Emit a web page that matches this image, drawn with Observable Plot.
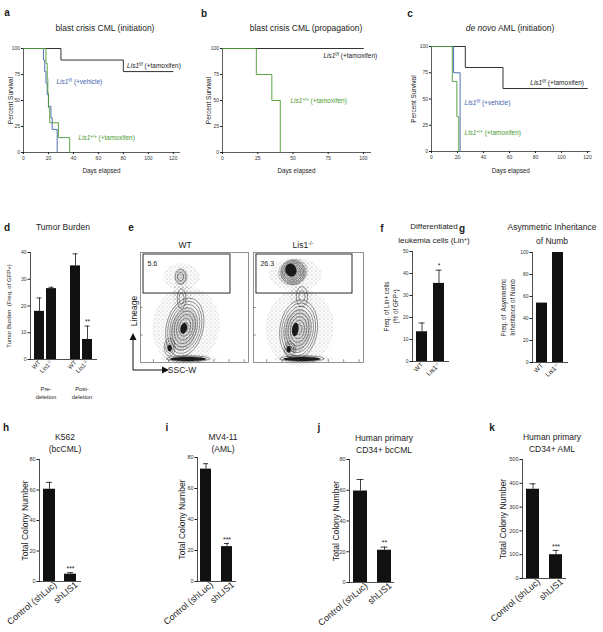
<!DOCTYPE html>
<html><head><meta charset="utf-8">
<script src="https://cdn.jsdelivr.net/npm/d3@7"></script>
<script src="https://cdn.jsdelivr.net/npm/@observablehq/plot@0.6"></script>
<style>
body{margin:0;background:#fff;}
#root{position:relative;width:603px;height:632px;overflow:hidden;font-family:'Liberation Sans',Arial,Helvetica,sans-serif;color:#1c1c1c;background:#fff;}
.t{position:absolute;white-space:nowrap;transform:translate(-50%,-50%);text-align:center;line-height:1.2;font-size:8.5px;}
.t sup{font-size:65%;vertical-align:0.45em;line-height:0;}
.L{position:absolute;font-weight:bold;font-size:10px;transform:translate(-50%,-50%);}
.p{position:absolute;}
</style></head><body>
<svg width="0" height="0" style="position:absolute">
<defs>
<pattern id="stSparse" width="4" height="4" patternUnits="userSpaceOnUse"><rect x="0.3" y="0.4" width="0.7" height="0.7" fill="#444"/><rect x="2.4" y="2.2" width="0.6" height="0.6" fill="#555"/><rect x="2.9" y="0.2" width="0.4" height="0.4" fill="#777"/></pattern>
<pattern id="stDense" width="3" height="3" patternUnits="userSpaceOnUse"><rect x="0.2" y="0.3" width="0.9" height="0.9" fill="#222"/><rect x="1.7" y="1.8" width="0.8" height="0.8" fill="#333"/><rect x="2.2" y="0.2" width="0.5" height="0.5" fill="#555"/></pattern>
</defs></svg>
<div id="root"></div>
<script>
const FONT = "'Liberation Sans', Arial, Helvetica, sans-serif";
const INK = "#1c1c1c";
const BLUE = "#3d63ad";
const GREEN = "#4b9a34";

// ---------- a: blast crisis CML (initiation)
const aFFTamDays = [0, 30, 80, 120];
const aFFTamSurv = [100, 88.9, 77.8, 77.8];
const aFFVehDays = [0, 16, 17, 18, 19, 20, 22, 23, 27];
const aFFVehSurv = [100, 88.9, 77.8, 66.7, 55.6, 44.4, 33.3, 22.2, 0];
const aWTTamDays = [0, 18, 19, 19.5, 20, 21, 28, 37];
const aWTTamSurv = [100, 85.7, 71.4, 57.1, 42.9, 28.6, 14.3, 0];
// ---------- b: blast crisis CML (propagation)
const bFFTamDays = [0, 100];
const bFFTamSurv = [100, 100];
const bWTTamDays = [0, 24, 35, 41];
const bWTTamSurv = [100, 75, 50, 0];
// ---------- c: de novo AML (initiation)
const cFFTamDays = [0, 26, 55, 120];
const cFFTamSurv = [100, 80, 60, 60];
const cFFVehDays = [0, 17, 22];
const cFFVehSurv = [100, 75, 0];
const cWTTamDays = [0, 16, 19.5, 21];
const cWTTamSurv = [100, 66.7, 33.3, 0];
const survTicks = [0, 25, 50, 75, 100];
const daysTicks120 = [0, 20, 40, 60, 80, 100, 120];
const daysTicks100 = [0, 25, 50, 75, 100];
const legFFTam = "~Lis1~^{f/f} (+tamoxifen)";
const legFFVeh = "~Lis1~^{f/f} (+vehicle)";
const legWTTam = "~Lis1~^{+/+} (+tamoxifen)";

// ---------- d: Tumor burden
const dCats = ["WT pre", "Lis1 pre", "gap", "WT post", "Lis1 post"];
const dTicks = ["WT", "Lis1^{-/-}", "", "WT", "Lis1^{-/-}"];
const dMean = [18, 26.5, null, 35, 7.5];
const dErr = [23, 27, null, 39.5, 12.5];
const dSig = ["", "", "", "", "**"];
const dGroups = ["Pre-\ndeletion", "Post-\ndeletion"];
const dGroupAt = ["WT pre", "WT post"];
const dYTicks = [0, 10, 20, 30, 40];

// ---------- e: flow cytometry (gate percentages)
const eWTGate = "5.6";
const eLisGate = "26.3";
// population descriptors: [cx, cy, rx, ry, tiltDeg, rings]
const eWTContours = [[37, 78, 5, 7, 0, 2], [41, 32, 17, 27, -14, 8], [27, 14, 5, 8, 0, 3], [38, 58, 4, 9, 0, 2], [44, 3.5, 20, 2.6, 0, 3]];
const eWTHaze = [[42, 33, 31, 36, -10], [38, 60, 9, 14, 0], [38, 78, 17, 12, 0], [45, 3.5, 27, 4, 0]];
const eWTDense = [[40, 30, 12, 20, -14], [38, 78, 6, 7, 0]];
const eWTCore = [[40, 31, 3, 5, -14], [27, 13, 2, 3, 0], [44, 3.2, 17, 1.8, 0]];
const eLisContours = [[36, 82, 11, 11, 20, 7], [41, 30, 17, 27, -8, 8], [33, 12, 5, 7, 0, 3], [44, 60, 5, 9, 0, 2], [44, 3.5, 20, 2.6, 0, 3]];
const eLisHaze = [[42, 32, 31, 35, -8], [38, 80, 24, 15, 0], [43, 60, 10, 12, 0], [45, 3.5, 27, 4, 0]];
const eLisDense = [[36, 82, 14, 12, 20], [40, 29, 12, 20, -8]];
const eLisCore = [[34, 84, 5, 6, 20], [38, 30, 3, 6, -8], [32, 12, 2, 3, 0], [44, 3.2, 17, 1.8, 0]];
const eWTGateBox = [{x1: 2.8, x2: 83.3, y1: 62.7, y2: 98.2}];
const eLisGateBox = [{x1: 2.7, x2: 90, y1: 62.7, y2: 98.2}];
const eTicksX = [12, 26, 40, 54, 68, 82, 96];
const eTicksY = [25, 50];

// ---------- f / g
const fCats = ["WT", "Lis1"];
const fTicks = ["WT", "Lis1^{-/-}"];
const fMean = [13.5, 35.5];
const fErr = [17.5, 41.5];
const fSig = ["", "*"];
const fYTicks = [0, 10, 20, 30, 40, 50];
const gMean = [54, 100];
const gYTicks = [0, 20, 40, 60, 80, 100];

// ---------- h-k colony assays
const colCats = ["Control (shLuc)", "shLIS1"];
const hMean = [60.5, 4.8], hErr = [65, 5.8], hSig = ["", "***"];
const iMean = [72.5, 22.5], iErr = [76, 24.5], iSig = ["", "***"];
const jMean = [59.5, 21], jErr = [67, 23], jSig = ["", "**"];
const kMean = [375, 100], kErr = [398, 118], kSig = ["", "***"];
const colTicks80 = [0, 20, 40, 60, 80];
const colTicks500 = [0, 100, 200, 300, 400, 500];

// ================= helpers
const root = document.getElementById("root");
const NS = "http://www.w3.org/2000/svg";
function rich(svg) {
  const leaves = [...svg.querySelectorAll("text, tspan")].filter(n => n.children.length === 0);
  for (const el of leaves) {
    const s = el.textContent;
    if (!/~|\^\{/.test(s)) continue;
    el.textContent = "";
    const re = /~([^~]+)~|\^\{([^}]*)\}|([^~^]+)/g;
    let m;
    while ((m = re.exec(s))) {
      const t = document.createElementNS(NS, "tspan");
      if (m[1] !== undefined) { t.setAttribute("font-style", "italic"); t.textContent = m[1]; }
      else if (m[2] !== undefined) { t.setAttribute("baseline-shift", "super"); t.setAttribute("font-size", "68%"); t.textContent = m[2]; }
      else t.textContent = m[3];
      el.appendChild(t);
    }
  }
  return svg;
}
function place(svg, left, top) {
  rich(svg);
  svg.style.position = "absolute";
  svg.style.left = left + "px";
  svg.style.top = top + "px";
  svg.style.overflow = "visible";
  root.appendChild(svg);
}
function html(str, x, y, extra) {
  const d = document.createElement("div");
  d.className = "t";
  d.innerHTML = str;
  d.style.left = x + "px"; d.style.top = y + "px";
  if (extra) Object.assign(d.style, extra);
  root.appendChild(d);
}
function letter(ch, x, y) {
  const d = document.createElement("div");
  d.className = "L"; d.textContent = ch;
  d.style.left = x + "px"; d.style.top = y + "px";
  root.appendChild(d);
}
const baseStyle = {fontFamily: FONT, color: INK, background: "transparent", overflow: "visible"};

// ================= survival panels
function survival(o) {
  const marks = [
    Plot.frame({anchor: "left", stroke: "#333", strokeWidth: 0.8}),
    Plot.frame({anchor: "bottom", stroke: "#333", strokeWidth: 0.8}),
    Plot.axisX({ticks: o.xTicks, tickSize: 2, tickPadding: 1.5, fontSize: 5, label: null, fill: "#333"}),
    Plot.axisY({ticks: survTicks, tickSize: 2, tickPadding: 1.5, fontSize: 5, label: null, fill: "#333"})
  ];
  for (const s of o.series) {
    marks.push(Plot.line(s.days.map((t, i) => ({t, v: s.surv[i]})), {x: "t", y: "v", curve: "step-after", stroke: s.color, strokeWidth: 0.9}));
  }
  for (const l of o.labels) {
    marks.push(Plot.text([l], {x: "x", y: "y", text: "text", fill: l.color, textAnchor: "start", fontSize: 6.5}));
  }
  marks.push(Plot.text(["Percent Survival"], {text: d => d, frameAnchor: "left", textAnchor: "middle", lineAnchor: "middle", dx: o.ylDx, rotate: -90, fontSize: 6.5}));
  marks.push(Plot.text(["Days elapsed"], {text: d => d, frameAnchor: "bottom", textAnchor: "middle", lineAnchor: "middle", dy: o.xlDy, fontSize: 6.3}));
  const svg = Plot.plot({
    width: o.width, height: o.height,
    marginLeft: o.mL, marginRight: o.mR, marginTop: o.mT, marginBottom: o.mB,
    x: {domain: o.xDomain}, y: {domain: [0, 100]},
    style: {...baseStyle, fontSize: "5px"},
    marks
  });
  place(svg, o.left, o.top);
}

survival({left: 0, top: 40, width: 195, height: 136, mL: 23, mR: 16, mT: 8, mB: 24, xDomain: [0, 125], xTicks: daysTicks120, ylDx: -13, xlDy: 18,
  series: [{days: aFFTamDays, surv: aFFTamSurv, color: INK}, {days: aFFVehDays, surv: aFFVehSurv, color: BLUE}, {days: aWTTamDays, surv: aWTTamSurv, color: GREEN}],
  labels: [{x: 83, y: 83.7, text: legFFTam, color: INK}, {x: 26.4, y: 68, text: legFFVeh, color: BLUE}, {x: 44, y: 14.4, text: legWTTam, color: GREEN}]});
survival({left: 200, top: 40, width: 200, height: 136, mL: 22, mR: 30, mT: 8, mB: 24, xDomain: [0, 105], xTicks: daysTicks100, ylDx: -14, xlDy: 18,
  series: [{days: bFFTamDays, surv: bFFTamSurv, color: INK}, {days: bWTTamDays, surv: bWTTamSurv, color: GREEN}],
  labels: [{x: 71.6, y: 93, text: legFFTam, color: INK}, {x: 48.2, y: 50, text: legWTTam, color: GREEN}]});
survival({left: 400, top: 38, width: 203, height: 137, mL: 31, mR: 13.4, mT: 8, mB: 24, xDomain: [0, 122], xTicks: daysTicks120, ylDx: -18, xlDy: 19,
  series: [{days: cFFTamDays, surv: cFFTamSurv, color: INK}, {days: cFFVehDays, surv: cFFVehSurv, color: BLUE}, {days: cWTTamDays, surv: cWTTamSurv, color: GREEN}],
  labels: [{x: 76, y: 65.7, text: legFFTam, color: INK}, {x: 25.4, y: 46.7, text: legFFVeh, color: BLUE}, {x: 25.4, y: 18, text: legWTTam, color: GREEN}]});

// ================= bar panels
function barChart(o) {
  const rows = o.cats.map((c, i) => ({c, v: o.mean[i], hi: o.err ? o.err[i] : null, star: o.sig ? o.sig[i] : ""})).filter(r => r.v != null);
  const eb = rows.filter(r => r.hi != null);
  const marks = [
    Plot.barY(rows, {x: "c", y: "v", fill: "#111"}),
    Plot.ruleX(eb, {x: "c", y1: "v", y2: "hi", stroke: "#111", strokeWidth: 0.8}),
    Plot.tickY(eb, {x: "c", y: "hi", stroke: "#111", strokeWidth: 0.8, insetLeft: o.cap, insetRight: o.cap}),
    Plot.text(rows.filter(r => r.star), {x: "c", y: r => (r.hi != null ? r.hi : r.v), text: "star", dy: -4, fontSize: o.starFont}),
    Plot.frame({anchor: "left", stroke: "#222", strokeWidth: 0.8}),
    Plot.frame({anchor: "bottom", stroke: "#222", strokeWidth: 0.8}),
    Plot.axisY({ticks: o.yTicks, tickSize: 2.5, tickPadding: 1.5, fontSize: o.yTickFont, label: null, fill: "#333"}),
    Plot.axisX({tickSize: 0, tickRotate: o.rot, tickPadding: o.xPad, dx: o.xDx || 0, fontSize: o.xFont, label: null, tickFormat: d => o.tickText[o.cats.indexOf(d)]}),
    Plot.text([o.yLabel], {text: d => d, frameAnchor: "left", textAnchor: "middle", lineAnchor: "middle", dx: o.ylDx, rotate: -90, fontSize: o.ylFont, lineHeight: 1.4}),
    ...(o.extra || [])
  ];
  const svg = Plot.plot({
    width: o.width, height: o.height,
    marginLeft: o.mL, marginRight: o.mR, marginTop: o.mT, marginBottom: o.mB,
    x: {type: "band", domain: o.cats, range: o.xRange, paddingInner: o.pI, paddingOuter: 0},
    y: {domain: o.yDomain},
    style: {...baseStyle, fontSize: "5.5px"},
    marks
  });
  place(svg, o.left, o.top);
}

barChart({left: 0, top: 240, width: 100, height: 160, mL: 30, mR: 4, mT: 12, mB: 41,
  cats: dCats, tickText: dTicks, mean: dMean, err: dErr, sig: dSig, yDomain: [0, 40], yTicks: dYTicks,
  xRange: [31.75, 94.25], pI: 0.19, cap: 2.5, starFont: 6.5, yTickFont: 5, xFont: 6, xPad: 2, rot: -45,
  yLabel: "Tumor Burden  (Freq. of GFP+)", ylDx: -22, ylFont: 6,
  extra: [Plot.text(dGroups, {x: (d, i) => dGroupAt[i], text: d => d, frameAnchor: "bottom", dx: 6.5, dy: 26, lineAnchor: "top", fontSize: 5.8, lineHeight: 1.35})]});

barChart({left: 380, top: 240, width: 75, height: 161, mL: 32, mR: 7, mT: 11, mB: 40,
  cats: fCats, tickText: fTicks, mean: fMean, err: fErr, sig: fSig, yDomain: [0, 50], yTicks: fYTicks,
  xRange: [35, 65], pI: 0.333, cap: 2.5, starFont: 6.5, yTickFont: 5, xFont: 6.5, xPad: 2, rot: -45,
  yLabel: "Freq. of Lin+ cells\n(% of GFP^{+})", ylDx: -22, ylFont: 6.3});

barChart({left: 490, top: 240, width: 113, height: 162, mL: 42, mR: 36, mT: 12, mB: 40,
  cats: fCats, tickText: fTicks, mean: gMean, yDomain: [0, 100], yTicks: gYTicks,
  xRange: [45, 74], pI: 0.294, cap: 2.5, starFont: 6.5, yTickFont: 5, xFont: 6.5, xPad: 2, rot: -45,
  yLabel: "Freq. of  Asymmetric\nInheritance of Numb", ylDx: -24.5, ylFont: 6.3});

const colTickText = ["Control (shLuc)", "shLIS1"];
barChart({left: 0, top: 450, width: 150, height: 182, mL: 39, mR: 70, mT: 9, mB: 51,
  cats: colCats, tickText: colTickText, mean: hMean, err: hErr, sig: hSig, yDomain: [0, 80], yTicks: colTicks80,
  xRange: [42.75, 76.75], pI: 0.419, cap: 3, starFont: 7, yTickFont: 5.5, xFont: 9, xPad: 2, rot: -40, xDx: 6,
  yLabel: "Total Colony Number", ylDx: -15, ylFont: 8.6});
barChart({left: 150, top: 450, width: 150, height: 182, mL: 47, mR: 65, mT: 7, mB: 51,
  cats: colCats, tickText: colTickText, mean: iMean, err: iErr, sig: iSig, yDomain: [0, 80], yTicks: colTicks80,
  xRange: [49, 83], pI: 0.4545, cap: 3, starFont: 7, yTickFont: 5.5, xFont: 9, xPad: 2, rot: -40, xDx: 6,
  yLabel: "Total Colony Number", ylDx: -16, ylFont: 8.6});
barChart({left: 300, top: 450, width: 150, height: 182, mL: 49, mR: 57, mT: 9, mB: 50,
  cats: colCats, tickText: colTickText, mean: jMean, err: jErr, sig: jSig, yDomain: [0, 80], yTicks: colTicks80,
  xRange: [53, 91], pI: 0.4167, cap: 3.5, starFont: 7, yTickFont: 5.5, xFont: 9, xPad: 2, rot: -40, xDx: 6,
  yLabel: "Total Colony Number", ylDx: -14, ylFont: 8.6});
barChart({left: 450, top: 450, width: 153, height: 182, mL: 72, mR: 38, mT: 9, mB: 54,
  cats: colCats, tickText: colTickText, mean: kMean, err: kErr, sig: kSig, yDomain: [0, 500], yTicks: colTicks500,
  xRange: [76, 112.5], pI: 0.447, cap: 3.5, starFont: 7, yTickFont: 5.5, xFont: 9, xPad: 2, rot: -40, xDx: 6,
  yLabel: "Total Colony Number", ylDx: -20, ylFont: 8.6});

// ================= e: flow plots
function ellipseRows(list, prefix, withRings) {
  const out = [];
  list.forEach((p, j) => {
    const [cx, cy, rx, ry, deg] = p;
    const rings = withRings ? p[5] : 1;
    const a = deg * Math.PI / 180;
    for (let k = 1; k <= rings; k++) {
      const s = Math.pow(k / rings, 0.85);
      for (let q = 0; q < 48; q++) {
        const th = q / 48 * 2 * Math.PI;
        const ex = rx * s * Math.cos(th), ey = ry * s * Math.sin(th);
        out.push({id: prefix + j + "_" + k, x: cx + ex * Math.cos(a) - ey * Math.sin(a), y: cy + ex * Math.sin(a) + ey * Math.cos(a)});
      }
    }
  });
  return out;
}
function flow(o) {
  const marks = [
    Plot.line(ellipseRows(o.haze, "h", false), {x: "x", y: "y", z: "id", curve: "linear-closed", fill: "url(#stSparse)", stroke: "none"}),
    Plot.line(ellipseRows(o.dense, "d", false), {x: "x", y: "y", z: "id", curve: "linear-closed", fill: "url(#stDense)", stroke: "none"}),
    Plot.line(ellipseRows(o.contours, "c", true), {x: "x", y: "y", z: "id", curve: "linear-closed", fill: "none", stroke: "#111", strokeWidth: 0.45}),
    Plot.line(ellipseRows(o.core, "k", false), {x: "x", y: "y", z: "id", curve: "linear-closed", fill: "#1a1a1a", stroke: "none"}),
    Plot.rect(o.gate, {x1: "x1", x2: "x2", y1: "y1", y2: "y2", fill: "none", stroke: "#111", strokeWidth: 0.9}),
    Plot.text(o.gate, {x: "x1", y: "y2", text: () => o.pct, dx: 4, dy: 9, textAnchor: "start", fontSize: 7}),
    Plot.ruleX(eTicksX, {y1: 0, y2: 2.5, stroke: "#444", strokeWidth: 0.6}),
    Plot.ruleY(eTicksY, {x1: 0, x2: 2.5, stroke: "#444", strokeWidth: 0.6}),
    Plot.frame({stroke: "#777", strokeWidth: 0.8})
  ];
  const svg = Plot.plot({
    width: o.width, height: o.height, marginLeft: o.mL, marginRight: o.mR, marginTop: o.mT, marginBottom: o.mB,
    x: {domain: [0, 100], axis: null}, y: {domain: [0, 100], axis: null},
    style: {...baseStyle, fontSize: "7px"}, marks
  });
  place(svg, o.left, o.top);
}
flow({left: 138, top: 250, width: 112, height: 114, mL: 2, mR: 2, mT: 2, mB: 2, haze: eWTHaze, dense: eWTDense, contours: eWTContours, core: eWTCore, gate: eWTGateBox, pct: eWTGate});
flow({left: 251, top: 250, width: 114, height: 114, mL: 2, mR: 2, mT: 2, mB: 2, haze: eLisHaze, dense: eLisDense, contours: eLisContours, core: eLisCore, gate: eLisGateBox, pct: eLisGate});

// axis arrows of the flow plots
const arrows = document.createElementNS(NS, "svg");
arrows.setAttribute("width", 70); arrows.setAttribute("height", 50);
arrows.setAttribute("class", "p");
arrows.style.left = "125px"; arrows.style.top = "330px";
arrows.innerHTML = '<line x1="8" y1="40" x2="8" y2="9" stroke="#111" stroke-width="1"/><polygon points="8,3 4.5,10 11.5,10" fill="#111"/>' +
  '<line x1="8" y1="40" x2="38" y2="40" stroke="#111" stroke-width="1"/><polygon points="44,40 37,36.5 37,43.5" fill="#111"/>';
root.appendChild(arrows);
html("SSC-W", 182, 370);
html("Lineage", 134, 311, {transform: "translate(-50%,-50%) rotate(-90deg)"});

// ================= titles & letters
html("blast crisis CML (initiation)", 105, 28);
html("blast crisis CML (propagation)", 306, 28);
html("<i>de novo</i> AML (initiation)", 510, 28);
html("Tumor Burden", 63, 227);
html("WT", 185, 245);
html("Lis1<sup>-/-</sup>", 303, 245);
html("Differentiated<br>leukemia cells (Lin<sup>+</sup>)", 434, 234, {lineHeight: "14px", fontSize: "8px"});
html("Asymmetric Inheritance<br>of Numb", 552, 234, {lineHeight: "14px"});
html("K562<br>(bcCML)", 65, 443, {lineHeight: "12px"});
html("MV4-11<br>(AML)", 223, 443, {lineHeight: "12px"});
html("Human primary<br>CD34+ bcCML", 384, 444, {lineHeight: "12px"});
html("Human primary<br>CD34+ AML", 552, 443, {lineHeight: "12px"});

letter("a", 7, 12); letter("b", 204, 13); letter("c", 410, 13);
letter("d", 7, 227); letter("e", 131, 227); letter("f", 382, 228); letter("g", 462, 228);
letter("h", 6, 427); letter("i", 167, 427); letter("j", 319, 427); letter("k", 492, 427);
</script></body></html>
